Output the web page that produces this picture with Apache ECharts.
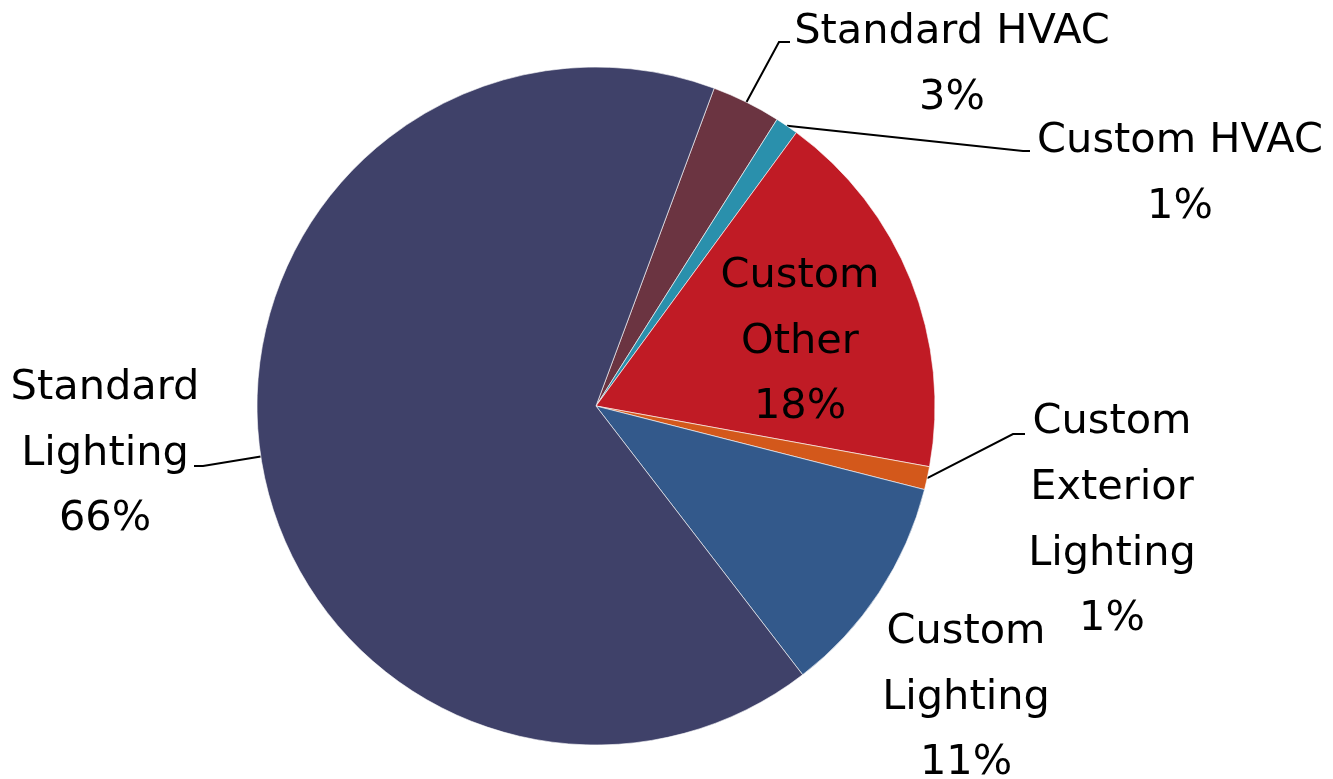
<!DOCTYPE html>
<html><head><meta charset="utf-8">
<script src="https://cdn.jsdelivr.net/npm/echarts@6/dist/echarts.min.js"></script>
<style>html,body{margin:0;padding:0;background:#fff}#c{width:1333px;height:779px}</style>
</head><body><div id="c"></div>
<script>
// Data (clockwise from the top-right, as drawn)
const categories = ['Standard HVAC', 'Custom HVAC', 'Custom Other', 'Custom Exterior Lighting', 'Custom Lighting', 'Standard Lighting'];
const labelNames = ['Standard HVAC', 'Custom HVAC', 'Custom\nOther', 'Custom\nExterior\nLighting', 'Custom\nLighting', 'Standard\nLighting'];
const values = [3.3, 1.1, 17.8, 1.1, 10.6, 66.1];
const colors = ['#6B3441', '#2A90AC', '#C01B25', '#D3581B', '#33598B', '#3F4169'];

// Label layout (centres of label blocks, leader elbow/end points)
const labelCenters = [[952, 65], [1180, 174], [800, 342], [1112, 521], [966, 698], [105, 454]];
const leaderPts = [
  [[779, 42], [790, 42]],
  [[1023, 151], [1030, 151]],
  null,
  [[1013, 434], [1025, 434]],
  null,
  [[203, 466], [194, 466]]
];

const chart = echarts.init(document.getElementById('c'), null, {renderer: 'canvas'});
const seriesData = categories.map((c, i) => ({
  name: c,
  value: values[i],
  itemStyle: {color: colors[i]},
  label: i === 2 ? {position: 'inside'} : {},
  labelLine: {show: leaderPts[i] !== null}
}));

chart.setOption({
  animation: false,
  backgroundColor: '#ffffff',
  series: [{
    type: 'pie',
    center: [596, 406],
    radius: 339,
    startAngle: 69.6,
    clockwise: true,
    avoidLabelOverlap: false,
    data: seriesData,
    itemStyle: {borderColor: 'rgba(255,255,255,0.6)', borderWidth: 1},
    label: {
      show: true,
      position: 'outside',
      formatter: p => labelNames[p.dataIndex] + '\n' + Math.round(p.percent) + '%',
      color: '#000',
      fontFamily: 'DejaVu Sans',
      fontSize: 41.5,
      lineHeight: 65.7,
      align: 'center'
    },
    labelLine: {show: true, lineStyle: {color: '#000', width: 2}, length: 20, length2: 10},
    labelLayout: function (params) {
      const i = params.dataIndex;
      const c = labelCenters[i];
      const res = {x: c[0], y: c[1], align: 'center', verticalAlign: 'middle'};
      if (leaderPts[i] && params.labelLinePoints) {
        res.labelLinePoints = [params.labelLinePoints[0], leaderPts[i][0], leaderPts[i][1]];
      }
      return res;
    }
  }]
});
</script>
</body></html>
